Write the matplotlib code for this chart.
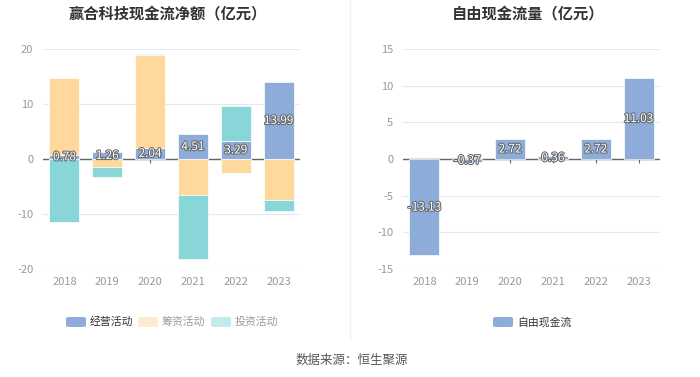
import matplotlib
matplotlib.use("Agg")
import matplotlib.pyplot as plt
import matplotlib.patheffects as pe
from matplotlib.patches import FancyBboxPatch
from matplotlib.lines import Line2D
import numpy as np

plt.rcParams['font.family'] = ['Noto Sans CJK SC', 'DejaVu Sans']
plt.rcParams['axes.unicode_minus'] = False

years = ['2018', '2019', '2020', '2021', '2022', '2023']
operating = [0.78, 1.26, 2.04, 4.51, 3.29, 13.99]
financing = [13.9, -1.5, 16.8, -6.5, -2.6, -7.45]
investing = [-11.5, -1.7, 0.2, -11.7, 6.3, -1.95]
free_cf = [-13.13, -0.37, 2.72, 0.36, 2.72, 11.03]

left_title = '赢合科技现金流净额（亿元）'
right_title = '自由现金流量（亿元）'
left_legend = ['经营活动', '筹资活动', '投资活动']
right_legend = ['自由现金流']
source = '数据来源：恒生聚源'

C_OP = '#8DACD9'
C_FIN = '#FFD99B'
C_INV = '#88D6D8'
C_FIN_L = '#FFEBCF'
C_INV_L = '#C2EBEC'

W, H = 700, 377
fig = plt.figure(figsize=(7.0, 3.77), dpi=100)

def px_axes(x0, x1, ytop, ybot):
    return fig.add_axes([x0 / W, 1 - ybot / H, (x1 - x0) / W, (ybot - ytop) / H])

label_fx = [pe.Stroke(linewidth=1.5, foreground='#666666'), pe.Normal()]

def style(ax, ylim, yticks, tick_len):
    ax.set_ylim(*ylim)
    ax.set_yticks(yticks)
    ax.set_xlim(-0.5, len(years) - 0.5)
    ax.set_xticks(range(len(years)))
    ax.set_xticklabels(years)
    for s in ax.spines.values():
        s.set_visible(False)
    ax.tick_params(axis='both', length=0, colors='#999999', labelsize=8)
    ax.tick_params(axis='x', pad=6)
    ax.tick_params(axis='y', pad=7)
    ax.grid(axis='y', color='#E3E8F2', linewidth=0.8)
    ax.set_axisbelow(True)
    ax.axhline(0, color='#666666', linewidth=1.0, zorder=2)
    ax.vlines(range(len(years)), 0, -tick_len, color='#666666', linewidth=0.8, zorder=1.5)

x = np.arange(len(years))
bw = 0.7

# Left chart
ax1 = px_axes(43, 300, 49, 269)
style(ax1, (-20, 20), [-20, -10, 0, 10, 20], 0.75)
pos_base = np.zeros(len(years))
neg_base = np.zeros(len(years))
for vals, col in [(operating, C_OP), (financing, C_FIN), (investing, C_INV)]:
    vals = np.array(vals, dtype=float)
    bottoms = np.where(vals >= 0, pos_base, neg_base)
    ax1.bar(x, vals, bw, bottom=bottoms, color=col, edgecolor='white', linewidth=0.5, zorder=3)
    pos_base = pos_base + np.where(vals >= 0, vals, 0)
    neg_base = neg_base + np.where(vals < 0, vals, 0)
for i, v in enumerate(operating):
    ax1.text(i, v / 2, f'{v:.2f}', ha='center', va='center', fontsize=8.5,
             color='white', path_effects=label_fx, zorder=5)

# Right chart
ax2 = px_axes(403, 660, 49, 269)
style(ax2, (-15, 15), [-15, -10, -5, 0, 5, 10, 15], 0.55)
ax2.bar(x, free_cf, bw, color=C_OP, edgecolor='white', linewidth=0.5, zorder=3)
for i, v in enumerate(free_cf):
    ax2.text(i, v / 2, f'{v:.2f}', ha='center', va='center', fontsize=8.5,
             color='white', path_effects=label_fx, zorder=5)

# Titles
fig.text(168 / W, 1 - 13 / H, left_title, ha='center', va='center', fontsize=11,
         fontweight='bold', color='#333333')
fig.text(528 / W, 1 - 13 / H, right_title, ha='center', va='center', fontsize=11,
         fontweight='bold', color='#333333')

# Separator
fig.add_artist(Line2D([350 / W, 350 / W], [1 - 0 / H, 1 - 340 / H], color='#F0F0F0', linewidth=1))

# Legends
def legend_item(xp, label, col, tcol):
    y = 322
    fig.patches.append(FancyBboxPatch(((xp) / W, 1 - (y + 5) / H), 20 / W, 10 / H,
                                      boxstyle='round,pad=0,rounding_size=0.004',
                                      transform=fig.transFigure, facecolor=col,
                                      edgecolor='none'))
    fig.text((xp + 24) / W, 1 - y / H, label, ha='left', va='center', fontsize=7.8, color=tcol)

legend_item(66, left_legend[0], C_OP, '#333333')
legend_item(138, left_legend[1], C_FIN_L, '#999999')
legend_item(211, left_legend[2], C_INV_L, '#999999')
legend_item(493, right_legend[0], C_OP, '#333333')

fig.text(352 / W, 1 - 360 / H, source, ha='center', va='center', fontsize=9, color='#555555')

fig.savefig('out.png', dpi=100)
